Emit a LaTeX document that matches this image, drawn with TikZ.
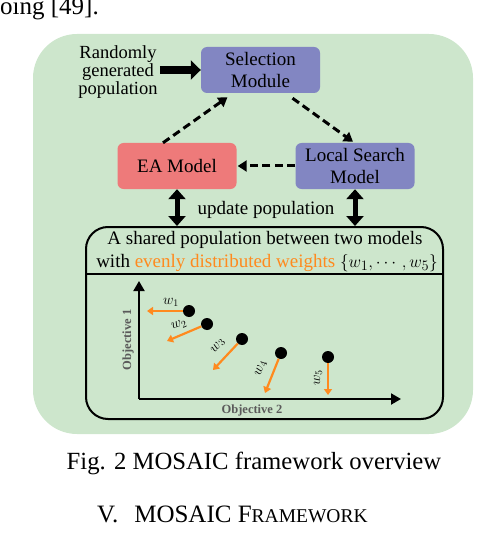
\documentclass[tikz,border=0pt]{standalone}
\usepackage{amsmath}
\usepackage{fontspec}
\setmainfont{Liberation Serif}
\usepackage{xcolor}
\usepackage{tikz}
\usetikzlibrary{arrows.meta}

\definecolor{hgruen}{RGB}{205,230,204}
\definecolor{lila}{RGB}{130,134,194}
\definecolor{lachs}{RGB}{238,122,122}
\definecolor{orng}{RGB}{255,138,30}
\definecolor{achsgrau}{RGB}{90,90,90}

\tikzset{
  modul/.style={rounded corners=6pt, minimum width=119pt, minimum height=46pt,
    align=center, inner sep=0pt, font=\fontsize{19}{22}\selectfont},
  gestr/.style={-{Triangle[length=9pt,width=11pt]}, line width=3pt,
    dash pattern=on 8pt off 4.5pt},
  dick/.style={{Triangle[length=10pt,width=17pt]}-{Triangle[length=10pt,width=17pt]},
    line width=5pt},
  gew/.style={orng, line width=2.2pt, -{Triangle[length=6pt,width=8pt]}},
  punkt/.style={circle, fill=black, minimum size=12pt, inner sep=0pt},
  wlab/.style={font=\fontsize{14}{14}\selectfont, inner sep=0pt},
  achse/.style={line width=2pt, -{Triangle[length=10pt,width=11pt]}},
  achslab/.style={font=\fontsize{12.5}{13}\selectfont\bfseries, text=achsgrau},
}

\begin{document}
\begin{tikzpicture}[x=1pt,y=-1pt,>=Latex]
  \useasboundingbox (0,0) rectangle (484,548);
  % Text um die Abbildung
  \node[anchor=base east, inner sep=0pt, font=\fontsize{25}{25}\selectfont] (vorher) at (99,15) {oing [49].};
  \node[anchor=base, inner sep=0pt, font=\fontsize{24.7}{25}\selectfont] (caption) at (254,469) {Fig. 2 MOSAIC framework overview};
  \node[anchor=base west, inner sep=0pt, font=\fontsize{25}{25}\selectfont] (kapitel) at (97,522)
    {V.\hspace{16pt}MOSAIC F{\fontsize{19.5}{20}\selectfont RAMEWORK}};

  % gruener Hintergrund
  \fill[hgruen, rounded corners=44pt] (33,34) rectangle (473,434);

  % Module
  \node[modul, fill=lila] (sel) at (260.5,70) {Selection\\Module};
  \node[modul, fill=lachs] (ea) at (177,166) {EA Model};
  \node[modul, fill=lila] (ls) at (355,166) {Local Search\\Model};
  \node[align=center, inner sep=2pt, font=\fontsize{18.5}{16}\selectfont] (rand) at (118,72)
    {Randomly\\generated\\population};

  % Pfeile zwischen den Modulen
  \draw[line width=8pt, -{Triangle[length=10pt,width=19pt]}] (rand.east |- sel.west) -- (sel.west);
  \draw[gestr] ([xshift=-14pt]ea.north) -- ([xshift=-33pt,yshift=-4pt]sel.south);
  \draw[gestr] ([xshift=32pt,yshift=-5pt]sel.south) -- ([xshift=-2pt,yshift=1pt]ls.north);
  \draw[gestr] (ls.west) -- ([xshift=1pt]ea.east);

  % gemeinsame Population
  \node[draw, line width=2pt, rounded corners=22pt, minimum width=357pt, minimum height=192pt] (pop) at (264.5,323) {};
  \draw[dick] (ea.south) -- (ea.south |- pop.north);
  \draw[dick] (ls.south) -- (ls.south |- pop.north);
  \node[font=\fontsize{19}{19}\selectfont] (upd) at (266,210) {update population};
  \node[font=\fontsize{19}{19}\selectfont] (kopf1) at (265,240) {A shared population between two models};
  \node[font=\fontsize{19}{19}\selectfont] (kopf2) at (267,263)
    {with \textcolor{orng}{evenly distributed weights} $\{w_1,\cdots,w_5\}$};
  \coordinate (trennL) at (87,274);
  \coordinate (trennR) at (442,274);
  \draw[line width=1.8pt] (trennL) -- (trennR);

  % Achsen
  \coordinate (ursprung) at (139,399);
  \coordinate (yende) at (139,281);
  \coordinate (xende) at (401,399);
  \draw[achse] (ursprung) -- (yende);
  \draw[achse] (ursprung) -- (xende);
  \node[achslab] (obj2) at (252,410) {Objective 2};
  \node[achslab, rotate=90] (obj1) at (128,340) {Objective 1};

  % Loesungen mit Gewichten
  \node[punkt] (p1) at (189,311) {};
  \node[punkt] (p2) at (207,324) {};
  \node[punkt] (p3) at (242,339) {};
  \node[punkt] (p4) at (281,353) {};
  \node[punkt] (p5) at (328,357) {};
  \coordinate (t1) at (147,311);
  \coordinate (t2) at (167,341);
  \coordinate (t3) at (213,370);
  \coordinate (t4) at (265,393);
  \coordinate (t5) at (328,395);
  \draw[gew] (p1) -- (t1);
  \draw[gew] (p2) -- (t2);
  \draw[gew] (p3) -- (t3);
  \draw[gew] (p4) -- (t4);
  \draw[gew] (p5) -- (t5);
  \node[wlab] (w1) at (171,302) {$w_1$};
  \node[wlab, rotate=20] (w2) at (179,325) {$w_2$};
  \node[wlab, rotate=50] (w3) at (218,346) {$w_3$};
  \node[wlab, rotate=70] (w4) at (261,368) {$w_4$};
  \node[wlab, rotate=90] (w5) at (318,378) {$w_5$};
\end{tikzpicture}
\end{document}
